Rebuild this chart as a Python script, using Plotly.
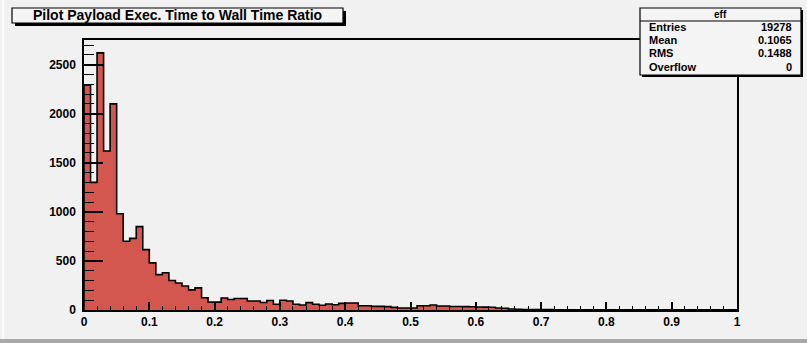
import numpy as np
import plotly.graph_objects as go

# Histogram "eff": payload execution time / wall time, 100 bins on [0, 1]
bin_low = 0.0
bin_high = 1.0
n_bins = 100
counts = [
    2290, 1300, 2620, 1620, 2100, 980, 700, 730, 850, 615,
    480, 360, 380, 300, 275, 245, 205, 225, 125, 80,
    80, 122, 107, 117, 117, 92, 92, 76, 97, 58,
    100, 92, 58, 51, 75, 58, 48, 61, 54, 68,
    71, 71, 44, 44, 37, 37, 34, 27, 20, 20,
    20, 44, 44, 51, 41, 41, 36, 35, 34, 33,
    30, 29, 28, 20, 18, 10, 6, 5, 5, 4,
    4, 4, 3, 3, 3, 3, 2, 2, 2, 2,
    2, 2, 2, 1, 1, 1, 1, 1, 1, 1,
    1, 1, 1, 1, 1, 1, 1, 1, 1, 1,
]

stat_title = "eff"
stat_names = ["Entries", "Mean", "RMS", "Overflow"]
stat_values = ["19278", "0.1065", "0.1488", "0"]
title_text = "Pilot Payload Exec. Time to Wall Time Ratio"

x_ticks = [0, 0.1, 0.2, 0.3, 0.4, 0.5, 0.6, 0.7, 0.8, 0.9, 1]
x_tick_text = ["0", "0.1", "0.2", "0.3", "0.4", "0.5", "0.6", "0.7", "0.8", "0.9", "1"]
y_ticks = [0, 500, 1000, 1500, 2000, 2500]

W, H = 807, 343
L, R, T, B = 84, 737, 40, 310  # frame edges in pixels

bg = "#f1f1f1"
fill_red = "#d4574f"
font_family = "Liberation Sans, Arial, Helvetica, sans-serif"

edges = np.linspace(bin_low, bin_high, n_bins + 1)
# step outline: rise at the left edge, one step per bin, drop at the right edge
step_x = [edges[0]] + list(edges[:-1]) + [edges[-1], edges[-1]]
step_y = [0] + list(counts) + [counts[-1], 0]

y_max = max(counts) * 1.05

fig = go.Figure()
fig.add_trace(go.Scatter(
    x=step_x, y=step_y, mode="lines",
    line=dict(shape="hv", color="black", width=1.6),
    fill="tozeroy", fillcolor=fill_red,
    hoverinfo="skip", showlegend=False,
))

tick_font = dict(family=font_family, size=12, color="black", weight="bold")

fig.update_layout(
    width=W, height=H, autosize=False,
    margin=dict(l=L, r=W - R, t=T, b=H - B, pad=0),
    paper_bgcolor=bg, plot_bgcolor=bg,
    showlegend=False,
    xaxis=dict(
        range=[bin_low, bin_high], tickvals=x_ticks, ticktext=x_tick_text,
        ticks="inside", ticklen=8, tickwidth=1.5, tickcolor="black",
        showline=True, linecolor="black", linewidth=1.5, mirror=True,
        showgrid=False, zeroline=False, tickfont=tick_font,
        minor=dict(dtick=0.02, ticks="inside", ticklen=4, tickwidth=1.2,
                   tickcolor="black", showgrid=False),
    ),
    yaxis=dict(
        range=[0, y_max], tickvals=y_ticks,
        ticks="inside", ticklen=19, tickwidth=1.5, tickcolor="black",
        showline=True, linecolor="black", linewidth=1.5, mirror=True,
        showgrid=False, zeroline=False, tickfont=tick_font,
        ticklabelstandoff=4,
        minor=dict(dtick=100, ticks="inside", ticklen=10, tickwidth=1.2,
                   tickcolor="black", showgrid=False),
    ),
)

# paper coordinates are relative to the frame, so convert from page pixels
def px_x(p):
    return (p - L) / (R - L)

def px_y(p):
    return (B - p) / (B - T)

shapes = []
# window strip along the bottom edge
shapes.append(dict(type="rect", xref="paper", yref="paper",
                   x0=px_x(-5), x1=px_x(W + 5), y0=px_y(H + 5), y1=px_y(339),
                   fillcolor="#a9a9a9", line=dict(width=0), layer="above"))
shapes.append(dict(type="line", xref="paper", yref="paper",
                   x0=px_x(3), x1=px_x(3), y0=px_y(339), y1=px_y(0),
                   line=dict(color="#fbfbfb", width=2)))

def pave(x0, y0, x1, y1, shadow=3):
    # box with a drop shadow to the right and below
    shapes.append(dict(type="rect", xref="paper", yref="paper",
                       x0=px_x(x0 + shadow), x1=px_x(x1 + shadow),
                       y0=px_y(y1 + shadow), y1=px_y(y0 + shadow),
                       fillcolor="black", line=dict(width=0), layer="above"))
    shapes.append(dict(type="rect", xref="paper", yref="paper",
                       x0=px_x(x0), x1=px_x(x1), y0=px_y(y1), y1=px_y(y0),
                       fillcolor="#f4f4f4", line=dict(color="black", width=1.2),
                       layer="above"))

# title pave
pave(12, 8, 343, 23)
# statistics pave
sx0, sy0, sx1, sy1 = 640, 8, 801, 75
pave(sx0, sy0, sx1, sy1, shadow=2)
shapes.append(dict(type="line", xref="paper", yref="paper",
                   x0=px_x(sx0), x1=px_x(sx1), y0=px_y(21), y1=px_y(21),
                   line=dict(color="black", width=1.2), layer="above"))

annotations = [
    dict(text=title_text, xref="paper", yref="paper",
         x=px_x(177), y=px_y(15.5), xanchor="center", yanchor="middle",
         showarrow=False,
         font=dict(family=font_family, size=14, color="black", weight="bold")),
    dict(text=stat_title, xref="paper", yref="paper",
         x=px_x((sx0 + sx1) / 2), y=px_y(14.5), xanchor="center", yanchor="middle",
         showarrow=False,
         font=dict(family=font_family, size=10, color="black", weight="bold")),
]
row_y = [27, 40, 53, 67]
for name, val, ry in zip(stat_names, stat_values, row_y):
    annotations.append(dict(text=name, xref="paper", yref="paper",
                            x=px_x(647), y=px_y(ry), xanchor="left", yanchor="middle",
                            showarrow=False,
                            font=dict(family=font_family, size=11, color="black", weight="bold")))
    annotations.append(dict(text=val, xref="paper", yref="paper",
                            x=px_x(794), y=px_y(ry), xanchor="right", yanchor="middle",
                            showarrow=False,
                            font=dict(family=font_family, size=11, color="black", weight="bold")))

fig.update_layout(shapes=shapes, annotations=annotations)

fig.write_html("out.html")
